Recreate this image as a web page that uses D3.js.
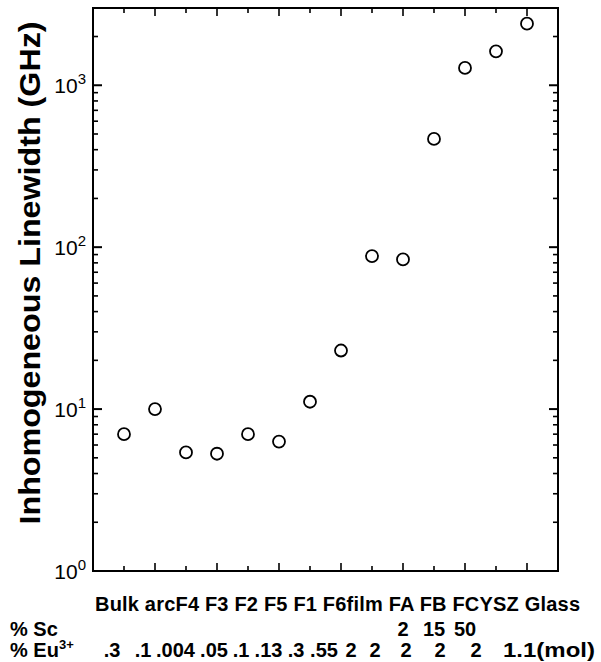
<!DOCTYPE html>
<html>
<head>
<meta charset="utf-8">
<script src="https://cdn.jsdelivr.net/npm/d3@7/dist/d3.min.js"></script>
<style>
  html, body { margin: 0; padding: 0; background: #fff; }
  svg { display: block; }
  text { font-family: "Liberation Sans", Arial, Helvetica, sans-serif; fill: #000; }
</style>
</head>
<body>
<svg id="chart" width="601" height="662"></svg>
<script>
// ---- data ----
const categories = ["Bulk", "arc", "F4", "F3", "F2", "F5", "F1", "F6", "film", "FA", "FB", "FC", "YSZ", "Glass"];
const linewidthGHz = [7.0, 10.0, 5.4, 5.3, 7.0, 6.3, 11.1, 23, 88, 84, 466, 1280, 1620, 2400];
const scPercent = ["", "", "", "", "", "", "", "", "", "2", "15", "50", "", ""];
const euPercent = [".3", ".1", ".004", ".05", ".1", ".13", ".3", ".55", "2", "2", "2", "2", "2", "1.1(mol)"];
const yMajorTicks = [1, 10, 100, 1000];
const yLabel = "Inhomogeneous Linewidth (GHz)";
const categoryRowText = "Bulk arcF4 F3 F2 F5 F1 F6film FA FB FCYSZ Glass";

// ---- layout ----
const mLeft = 93, mRight = 558, mTop = 8, mBottom = 571;
const euLabelX = [112, 143, 175.5, 214, 241, 268.5, 296, 324, 351, 375, 406, 440, 476, 503];

const svg = d3.select("#chart");

const x = d3.scaleLinear().domain([-1, categories.length]).range([mLeft, mRight]);
const y = d3.scaleLog().domain([1, 3000]).range([mBottom, mTop]);

const minor = [];
for (let d = 1; d <= 1000; d *= 10) {
  for (let k = 2; k <= 9; k++) {
    const v = k * d;
    if (v < 3000) minor.push(v);
  }
}

const g = svg.append("g");

function yTicks(side) {
  const x0 = side === "left" ? mLeft : mRight;
  const dir = side === "left" ? 1 : -1;
  g.selectAll(null).data(yMajorTicks).enter().append("line")
    .attr("x1", x0).attr("x2", x0 + dir * 9)
    .attr("y1", d => y(d)).attr("y2", d => y(d))
    .attr("stroke", "#000").attr("stroke-width", 2);
  g.selectAll(null).data(minor).enter().append("line")
    .attr("x1", x0).attr("x2", x0 + dir * 5)
    .attr("y1", d => y(d)).attr("y2", d => y(d))
    .attr("stroke", "#000").attr("stroke-width", 1.6);
}
yTicks("left");
yTicks("right");

function xTicks(y0, dir) {
  g.selectAll(null).data(categories).enter().append("line")
    .attr("x1", (d, i) => x(i)).attr("x2", (d, i) => x(i))
    .attr("y1", y0).attr("y2", (d, i) => y0 + dir * (i % 2 === 1 ? 8 : 5))
    .attr("stroke", "#000").attr("stroke-width", 1.6);
}
xTicks(mBottom, -1);
xTicks(mTop, 1);

g.append("rect")
  .attr("x", mLeft).attr("y", mTop)
  .attr("width", mRight - mLeft).attr("height", mBottom - mTop)
  .attr("fill", "none").attr("stroke", "#000").attr("stroke-width", 2);

const yl = g.selectAll(null).data(yMajorTicks).enter().append("text")
  .attr("x", 86).attr("y", d => y(d) + 8)
  .attr("text-anchor", "end")
  .style("font-size", "21px");
yl.append("tspan").text("10");
yl.append("tspan").attr("dy", -9).style("font-size", "15px").text(d => Math.round(Math.log10(d)));

g.append("text")
  .attr("transform", "translate(40," + 273 + ") rotate(-90)")
  .attr("text-anchor", "middle")
  .attr("textLength", 503).attr("lengthAdjust", "spacingAndGlyphs")
  .style("font-size", "30px").style("font-weight", "bold")
  .text(yLabel);

g.selectAll(null).data(linewidthGHz).enter().append("circle")
  .attr("cx", (d, i) => x(i)).attr("cy", d => y(d))
  .attr("r", 6)
  .attr("fill", "#fff").attr("stroke", "#000").attr("stroke-width", 1.8);

g.append("text")
  .attr("x", 95).attr("y", 611)
  .attr("textLength", 485).attr("lengthAdjust", "spacing")
  .style("font-size", "20px").style("font-weight", "bold")
  .text(categoryRowText);

g.append("text").attr("x", 10).attr("y", 636)
  .style("font-size", "20px").style("font-weight", "bold").text("% Sc");
g.selectAll(null).data(scPercent).enter().append("text")
  .attr("x", (d, i) => x(i)).attr("y", 636)
  .attr("text-anchor", "middle")
  .style("font-size", "20px").style("font-weight", "bold")
  .text(d => d);

const euHead = g.append("text").attr("x", 10).attr("y", 657)
  .style("font-size", "20px").style("font-weight", "bold");
euHead.append("tspan").text("% Eu");
euHead.append("tspan").attr("dy", -8).style("font-size", "13px").text("3+");

g.selectAll(null).data(euPercent).enter().append("text")
  .attr("x", (d, i) => euLabelX[i]).attr("y", 657)
  .attr("text-anchor", (d, i) => i === euPercent.length - 1 ? "start" : "middle")
  .attr("textLength", (d, i) => i === euPercent.length - 1 ? 92 : null)
  .attr("lengthAdjust", "spacingAndGlyphs")
  .style("font-size", "20px").style("font-weight", "bold")
  .text(d => d);
</script>
</body>
</html>
